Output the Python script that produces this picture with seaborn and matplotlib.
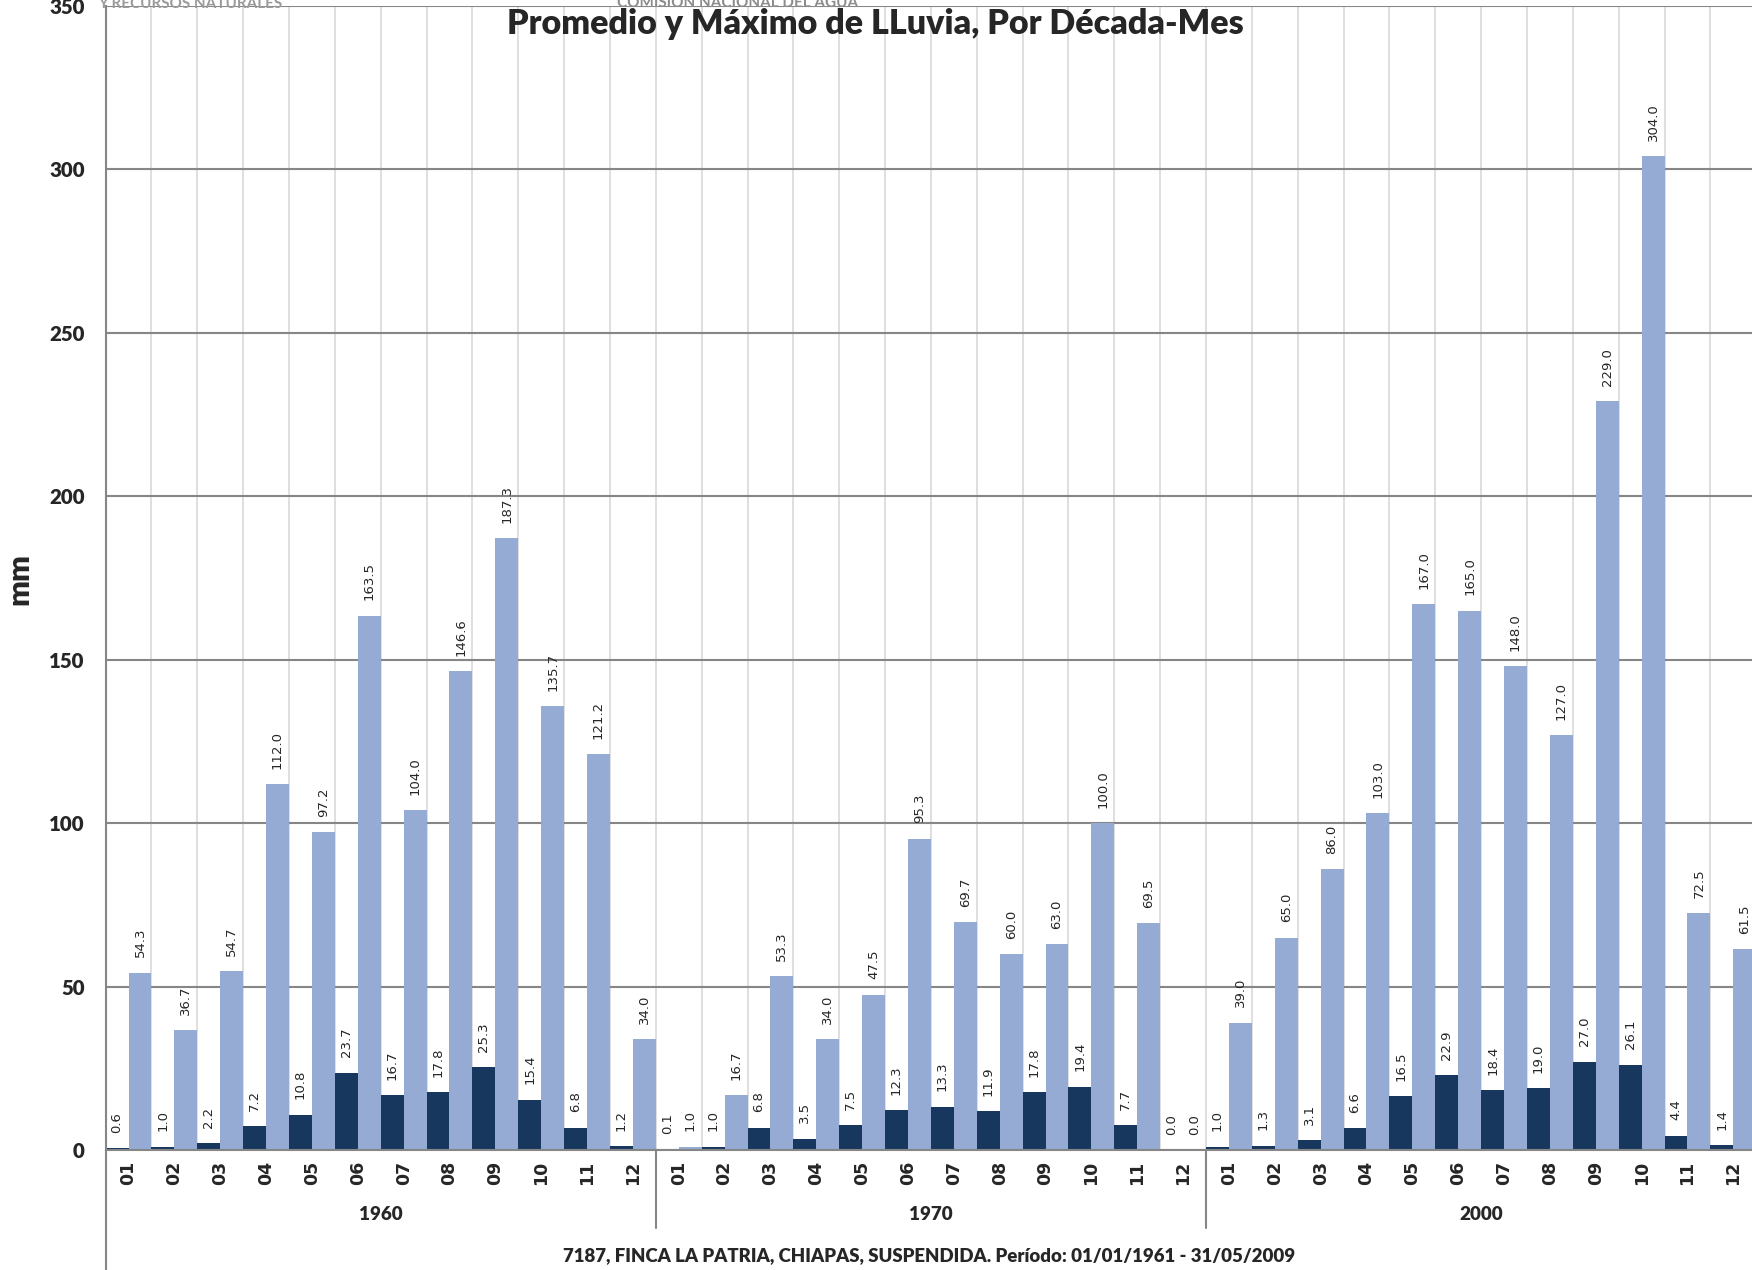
import matplotlib
matplotlib.use("Agg")
import matplotlib.pyplot as plt
import matplotlib.transforms as mtransforms
import numpy as np
import pandas as pd
import seaborn as sns

decadas = ["1960", "1970", "2000"]
meses = ["01", "02", "03", "04", "05", "06", "07", "08", "09", "10", "11", "12"]

promedio_1960 = [0.6, 1.0, 2.2, 7.2, 10.8, 23.7, 16.7, 17.8, 25.3, 15.4, 6.8, 1.2]
maximo_1960 = [54.3, 36.7, 54.7, 112.0, 97.2, 163.5, 104.0, 146.6, 187.3, 135.7, 121.2, 34.0]
promedio_1970 = [0.1, 1.0, 6.8, 3.5, 7.5, 12.3, 13.3, 11.9, 17.8, 19.4, 7.7, 0.0]
maximo_1970 = [1.0, 16.7, 53.3, 34.0, 47.5, 95.3, 69.7, 60.0, 63.0, 100.0, 69.5, 0.0]
promedio_2000 = [1.0, 1.3, 3.1, 6.6, 16.5, 22.9, 18.4, 19.0, 27.0, 26.1, 4.4, 1.4]
maximo_2000 = [39.0, 65.0, 86.0, 103.0, 167.0, 165.0, 148.0, 127.0, 229.0, 304.0, 72.5, 61.5]

promedios = [promedio_1960, promedio_1970, promedio_2000]
maximos = [maximo_1960, maximo_1970, maximo_2000]

rows = []
for dec, prom, maxi in zip(decadas, promedios, maximos):
    for m, p, x in zip(meses, prom, maxi):
        rows.append({"clave": dec + "-" + m, "serie": "Promedio", "mm": p})
        rows.append({"clave": dec + "-" + m, "serie": "Máximo", "mm": x})
df = pd.DataFrame(rows)
claves = [d + "-" + m for d in decadas for m in meses]

sns.set_style("white")
plt.rcParams["font.family"] = ["Lato", "DejaVu Sans"]
plt.rcParams["font.weight"] = "heavy"

gris = "#868686"
W, H = 1752, 1270
fig = plt.figure(figsize=(W / 100, H / 100), dpi=100)
ax = fig.add_axes([105.6 / W, 120 / H, 1650.6 / W, 1144 / H])

sns.barplot(data=df, x="clave", y="mm", hue="serie", order=claves,
            hue_order=["Promedio", "Máximo"], palette=["#18375F", "#95ABD3"],
            width=1.0, saturation=1, errorbar=None, legend=False,
            linewidth=0, ax=ax)

for c in ax.containers:
    ax.bar_label(c, fmt="%.1f", rotation=90, padding=11, fontsize=9.5,
                 family="DejaVu Sans", fontweight="normal")

ax.set_ylim(0, 350)
ax.set_xlim(-0.5, 35.5)
ax.set_yticks(range(0, 351, 50))
ax.set_xticks(range(36))
ax.set_xticklabels(meses * 3, rotation=90, family="DejaVu Sans",
                   fontweight="bold", fontsize=12.5)
ax.set_xticks(np.arange(-0.5, 36, 1), minor=True)
ax.tick_params(axis="x", which="major", length=0, pad=8)
ax.tick_params(axis="x", which="minor", length=27, width=1.5, color=gris)
ax.tick_params(axis="y", length=6, width=1.5, color=gris, pad=9, labelsize=14.8)

ax.set_axisbelow(True)
ax.grid(False)
ax.grid(axis="y", which="major", color=gris, lw=1.5)
ax.grid(axis="x", which="minor", color="#D9D9D9", lw=1.2)
for s in ["top", "right"]:
    ax.spines[s].set_visible(False)
for s in ["left", "bottom"]:
    ax.spines[s].set_color(gris)
    ax.spines[s].set_linewidth(1.5)
ax.set_xlabel("")
ax.set_ylabel("")

trans = mtransforms.blended_transform_factory(ax.transData, ax.transAxes)
ax.plot([-0.5, -0.5], [0, -0.11], transform=trans, color=gris, lw=1.5, clip_on=False)
for xs in [11.5, 23.5]:
    ax.plot([xs, xs], [0, -0.068], transform=trans, color=gris, lw=1.5, clip_on=False)
for i, dec in enumerate(decadas):
    ax.text(i * 12 + 5.5, -0.0568, dec, transform=trans, ha="center", va="center",
            fontsize=13.6)

fig.text(19 / W, 0.544, "mm", rotation=90, ha="center", va="center", fontsize=22)
fig.text(0.4994, 1 - 24 / H, "Promedio y Máximo de LLuvia, Por Década-Mes",
         ha="center", va="center", fontsize=24.5)
fig.text(929 / W, 1 - 1256 / H,
         "7187, FINCA LA PATRIA, CHIAPAS, SUSPENDIDA. Período: 01/01/1961 - 31/05/2009",
         ha="center", va="center", fontsize=13.4)

fig.text(98 / W, 1 - 8 / H, "Y RECURSOS NATURALES", ha="left", va="baseline",
         fontsize=11, fontweight="bold", color="#9a9a9a")
fig.text(617 / W, 1 - 7 / H, "COMISION NACIONAL DEL AGUA", ha="left", va="baseline",
         fontsize=11, fontweight="bold", color="#8c8c8c")

fig.savefig("out.png", dpi=100)
